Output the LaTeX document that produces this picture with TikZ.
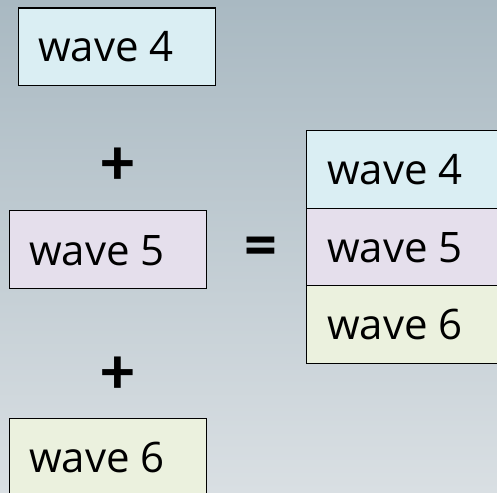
\documentclass[tikz,border=0pt]{standalone}
\usepackage{fontspec}
\setmainfont{Open Sans}
\newfontfamily\opfont{Carlito}
\definecolor{bgtop}{HTML}{A9B9C2}
\definecolor{bgbot}{HTML}{D9DFE3}
\definecolor{cfour}{HTML}{DAEEF3}
\definecolor{cfive}{HTML}{E5DFEC}
\definecolor{csix}{HTML}{EBF1DE}
\tikzset{
  wbox/.style={draw=black, line width=1.2pt, rectangle, inner sep=0pt, anchor=north west, minimum width=197pt, minimum height=77.5pt},
  sbox/.style={draw=black, line width=1.2pt, rectangle, inner sep=0pt, anchor=north west, minimum width=220pt, minimum height=77.5pt},
  lbl/.style={anchor=base west, inner sep=0pt, font=\fontsize{42}{50}\selectfont},
  op/.style={inner sep=0pt, font=\opfont\fontsize{66}{70}\selectfont\bfseries}
}
\begin{document}
\begin{tikzpicture}[x=1pt,y=-1pt]
\useasboundingbox (0,0) rectangle (497,492);
\shade[top color=bgtop, bottom color=bgbot] (0,0) rectangle (497,492);
\clip (0,0) rectangle (497,492);
% left column
\node[wbox, fill=cfour] (b4) at (18,7.5) {};
\node[lbl] (t4) at (38,62) {wave 4};
\node[op] (p1) at (117.5,166) {+};
\node[wbox, fill=cfive] (b5) at (9,210) {};
\node[lbl] (t5) at (29,265) {wave 5};
\node[op] (p2) at (117.5,375) {+};
\node[wbox, fill=csix] (b6) at (9,418) {};
\node[lbl] (t6) at (29,472) {wave 6};
\node[op] (eq) at (261,252) {=};
% stacked result
\node[sbox, fill=cfour] (s4) at (306,130) {};
\node[lbl] (u4) at (327,184) {wave 4};
\node[sbox, fill=cfive] (s5) at (306,207.5) {};
\node[lbl] (u5) at (327,262) {wave 5};
\node[sbox, fill=csix] (s6) at (306,285) {};
\node[lbl] (u6) at (327,339) {wave 6};
\end{tikzpicture}
\end{document}
